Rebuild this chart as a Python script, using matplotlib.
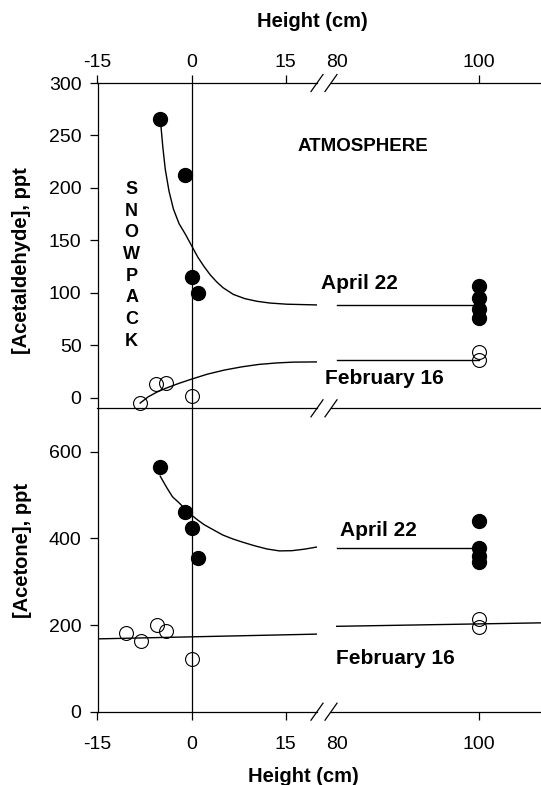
import matplotlib.pyplot as plt
from matplotlib.lines import Line2D

plt.rcParams['font.family'] = ['Liberation Sans', 'DejaVu Sans']
plt.rcParams['axes.unicode_minus'] = False

# ==========================
# DATA
# ==========================
# acetaldehyde, ppt
ald_apr_x = [-5, -1, 0, 1, 100, 100, 100, 100]
ald_apr_y = [266, 212, 115, 100, 107, 95, 85, 76.5]
ald_feb_x = [-8.2, -5.6, -4.0, 0, 100, 100]
ald_feb_y = [-5, 13.5, 14.5, 1.5, 44, 36]

# acetone, ppt
ace_apr_x = [-5, -1, 0, 1, 100, 100, 100, 100]
ace_apr_y = [564, 461, 423, 354, 440, 377, 359, 346]
ace_feb_x = [-10.4, -8.0, -5.5, -4.0, 0, 100, 100]
ace_feb_y = [181, 163, 201, 187, 121, 214, 196]

# fitted curves, snowpack side (-15..20 cm), traced point by point
fit_ald_apr_x = [-4.9, -4.6, -4.2, -3.6, -2.9, -2, -1, 0, 1, 2, 3, 4, 5,
                 6.67, 8.5, 10.4, 12.5, 15.2, 20]
fit_ald_apr_y = [260, 240, 218, 197, 180, 166, 156, 145, 134, 125, 117,
                 110.5, 105, 98.5, 94.5, 92, 90.3, 89.2, 88.5]
fit_ald_feb_x = [-8.2, -6.9, -5.5, -4.15, -2, 0, 2.5, 5.2, 8, 10.7, 13.5,
                 16.2, 20]
fit_ald_feb_y = [-5, 1, 5.5, 9, 13.8, 17.8, 22.5, 26.4, 29.5, 31.8, 33.2,
                 34, 34.2]
fit_ace_apr_x = [-5, -4, -3.05, -2, -1, 0, 1, 2, 3.55, 5, 6.5, 7.95, 10,
                 12, 14, 16, 18, 20]
fit_ace_apr_y = [543.5, 518, 496, 482, 467.5, 453.5, 442, 431.5, 419, 407.5,
                 399, 392, 383, 375.5, 371, 371.5, 375, 380]
fit_ace_feb_x = [-15, 20]
fit_ace_feb_y = [168, 179]

# fitted curves, atmosphere side (80..100 cm)
atm_ald_apr_x = [80, 100]
atm_ald_apr_y = [88, 88]
atm_ald_feb_x = [80, 100]
atm_ald_feb_y = [36.5, 36.5]
atm_ace_apr_x = [80, 100]
atm_ace_apr_y = [378, 378]
atm_ace_feb_x = [80, 108.8]
atm_ace_feb_y = [197, 205]

left_ticks = [-15, 0, 15]
right_ticks = [80, 100]
ald_ticks = [0, 50, 100, 150, 200, 250, 300]
ace_ticks = [0, 200, 400, 600]

# ==========================
# FIGURE / AXES
# ==========================
W, H = 541, 785
fig = plt.figure(figsize=(W / 100, H / 100), dpi=100)


def px_box(x0, y0, x1, y1):
    return [x0 / W, 1 - y1 / H, (x1 - x0) / W, (y1 - y0) / H]


ax_tl = fig.add_axes(px_box(97.5, 83, 317, 408.3))
ax_tr = fig.add_axes(px_box(331, 83, 541, 408.3))
ax_bl = fig.add_axes(px_box(97.5, 408.3, 317, 711.7))
ax_br = fig.add_axes(px_box(331, 408.3, 541, 711.7))

LW = 0.9
TICK_FS = 14

for ax in [ax_tl, ax_tr, ax_bl, ax_br]:
    ax.patch.set_alpha(0)
    ax.spines['right'].set_visible(False)
    for s in ax.spines.values():
        s.set_linewidth(LW)
    ax.tick_params(direction='out', length=5.5, width=LW, labelsize=TICK_FS)

for ax in [ax_tr, ax_br]:
    ax.spines['left'].set_visible(False)
    ax.tick_params(left=False, labelleft=False)

for ax in [ax_tl, ax_bl]:
    ax.set_xlim(-15, 20)
    ax.axvline(0, color='black', lw=LW)
for ax in [ax_tr, ax_br]:
    ax.set_xlim(79.2, 108.8)

ax_tl.set_ylim(-10, 300)
ax_tr.set_ylim(-10, 300)
ax_bl.set_ylim(0, 700)
ax_br.set_ylim(0, 700)

# top panel: x ticks on top
for ax, ticks in [(ax_tl, left_ticks), (ax_tr, right_ticks)]:
    ax.xaxis.tick_top()
    ax.set_xticks(ticks)
    ax.tick_params(axis='x', pad=3)
for ax, ticks in [(ax_bl, left_ticks), (ax_br, right_ticks)]:
    ax.set_xticks(ticks)
    ax.tick_params(axis='x', pad=12)
    ax.spines['top'].set_visible(False)

# no tick mark at 80 (the break sits there)
ax_tr.xaxis.get_major_ticks()[0].tick2line.set_visible(False)
ax_br.xaxis.get_major_ticks()[0].tick1line.set_visible(False)

ax_tl.set_yticks(ald_ticks)
ax_bl.set_yticks(ace_ticks)
ax_tl.tick_params(axis='y', pad=6)
ax_bl.tick_params(axis='y', pad=6)

# ==========================
# DATA POINTS + FITS
# ==========================
filled = dict(marker='o', ms=10, mfc='black', mec='black', ls='none',
              clip_on=False, zorder=4)
hollow = dict(marker='o', ms=10, mfc='none', mec='black', mew=0.8, ls='none',
              clip_on=False, zorder=4)
fit = dict(color='black', lw=1.0, zorder=3)

for ax in [ax_tl, ax_tr]:
    ax.plot(ald_apr_x, ald_apr_y, **filled)
    ax.plot(ald_feb_x, ald_feb_y, **hollow)
ax_tl.plot(fit_ald_apr_x, fit_ald_apr_y, **fit)
ax_tl.plot(fit_ald_feb_x, fit_ald_feb_y, **fit)
ax_tr.plot(atm_ald_apr_x, atm_ald_apr_y, **fit)
ax_tr.plot(atm_ald_feb_x, atm_ald_feb_y, **fit)

for ax in [ax_bl, ax_br]:
    ax.plot(ace_apr_x, ace_apr_y, **filled)
    ax.plot(ace_feb_x, ace_feb_y, **hollow)
ax_bl.plot(fit_ace_apr_x, fit_ace_apr_y, **fit)
ax_bl.plot(fit_ace_feb_x, fit_ace_feb_y, **fit)
ax_br.plot(atm_ace_apr_x, atm_ace_apr_y, **fit)
ax_br.plot(atm_ace_feb_x, atm_ace_feb_y, **fit)

# ==========================
# AXIS BREAK MARKS
# ==========================
for yc in [83, 408.3, 711.7]:
    for xc in [317, 331]:
        fig.add_artist(Line2D([(xc - 6) / W, (xc + 6) / W],
                              [1 - (yc + 8.5) / H, 1 - (yc - 8.5) / H],
                              color='black', lw=LW))

# ==========================
# LABELS
# ==========================
ax_tl.set_ylabel('[Acetaldehyde], ppt', fontsize=14.5, fontweight='bold')
ax_tl.yaxis.set_label_coords(-0.305, 0.453)
ax_bl.set_ylabel('[Acetone], ppt', fontsize=14.5, fontweight='bold')
ax_bl.yaxis.set_label_coords(-0.300, 0.53)


def ftext(x, y, s, **kw):
    fig.text(x / W, 1 - y / H, s, fontweight='bold', **kw)


ftext(312, 21.7, 'Height (cm)', fontsize=14.5, ha='center', va='center')
ftext(303.5, 776, 'Height (cm)', fontsize=14.5, ha='center', va='center')
ftext(362.6, 146.7, 'ATMOSPHERE', fontsize=13.5, ha='center', va='center')
for i, ch in enumerate('SNOWPACK'):
    ftext(131.7, 189.3 + i * 21.7, ch, fontsize=13, ha='center', va='center')
ftext(320.7, 283.3, 'April 22', fontsize=15, ha='left', va='center')
ftext(325, 379, 'February 16', fontsize=15, ha='left', va='center')
ftext(339.7, 530, 'April 22', fontsize=15, ha='left', va='center')
ftext(335.5, 659, 'February 16', fontsize=15, ha='left', va='center')

plt.savefig('out.png', dpi=100)
